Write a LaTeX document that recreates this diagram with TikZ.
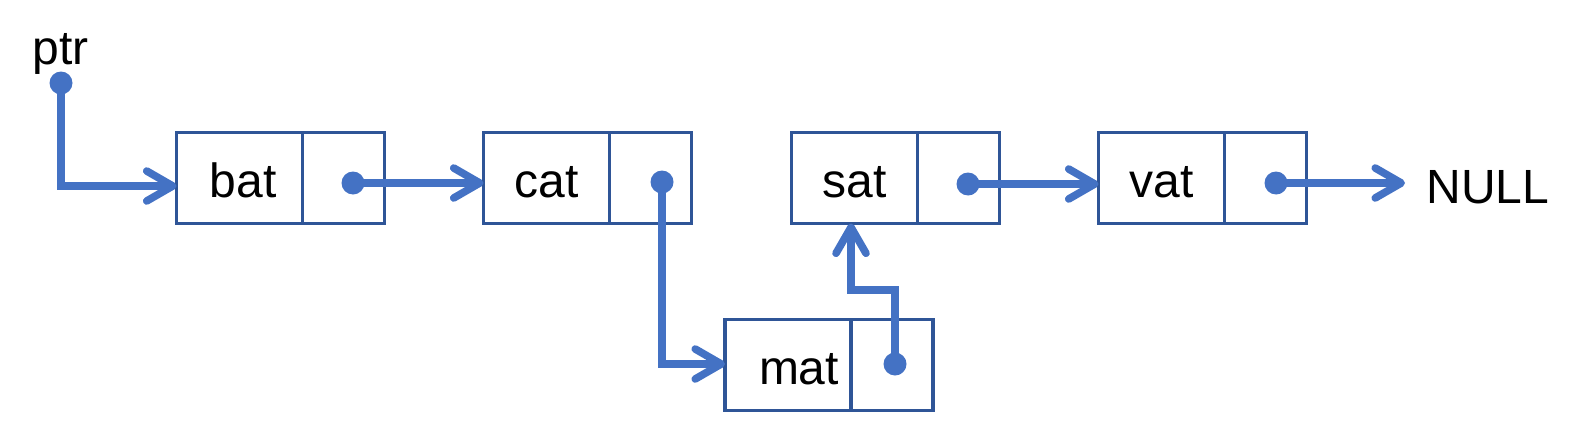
\documentclass[tikz,border=0pt]{standalone}
\usepackage{fontspec}
\setmainfont{Liberation Sans}
\usetikzlibrary{arrows.meta}
\definecolor{boxblue}{HTML}{2F5597}
\definecolor{ptrblue}{HTML}{4472C4}
\begin{document}
\begin{tikzpicture}[x=0.5pt,y=-0.5pt,
  datacell/.style={draw=boxblue,line width=1.65pt,minimum width=63pt,minimum height=45.5pt,
    inner sep=0pt,outer sep=0pt,text height=19pt,text depth=0pt,
    font=\fontsize{24pt}{28pt}\selectfont},
  ptrcell/.style={draw=boxblue,line width=1.65pt,minimum width=41pt,minimum height=45.5pt,
    inner sep=0pt,outer sep=0pt,anchor=west},
  dot/.style={circle,fill=ptrblue,minimum size=11.5pt,inner sep=0pt},
  link/.style={draw=ptrblue,line width=3.8pt,-{Straight Barb[length=13pt,width=15pt,round]}},
  lbl/.style={font=\fontsize{24pt}{28pt}\selectfont,inner sep=0pt}]
\useasboundingbox (0,0) rectangle (1582,428);

% list cells
\node[datacell] (bat) at (239.5,178) {\hspace*{3.5pt}bat};
\node[ptrcell] (batp) at (bat.east) {};
\node[datacell] (cat) at (546.5,178) {cat};
\node[ptrcell] (catp) at (cat.east) {};
\node[datacell] (sat) at (854.5,178) {sat};
\node[ptrcell] (satp) at (sat.east) {};
\node[datacell] (vat) at (1161.5,178) {vat};
\node[ptrcell] (vatp) at (vat.east) {};
\node[datacell] (mat) at (788,365) {\hspace*{11pt}mat};
\node[ptrcell] (matp) at (mat.east) {};

% labels
\node[lbl,anchor=base west] (ptr) at (32,64) {ptr};
\node[lbl,anchor=base west,inner xsep=10.5pt] (null) at (1405,203) {NULL};

% pointer dots
\node[dot] (pd) at (61,83) {};
\node[dot] (bd) at (353,183) {};
\node[dot] (cd) at (662,182) {};
\node[dot] (sd) at (968,184) {};
\node[dot] (vd) at (1276,183) {};
\node[dot] (md) at (895,364) {};

% links
\draw[link] (pd.center) |- ([yshift=-4pt]bat.west);
\draw[link] (bd.center) -- (bd.center -| cat.west);
\draw[link] (cd.center) |- (md.center -| mat.west);
\coordinate (mturn) at (851,290);
\draw[link] (md.center) |- (mturn) -- (mturn |- sat.south);
\draw[link] (sd.center) -- (sd.center -| vat.west);
\draw[link] (vd.center) -- (vd.center -| null.west);
\end{tikzpicture}
\end{document}
